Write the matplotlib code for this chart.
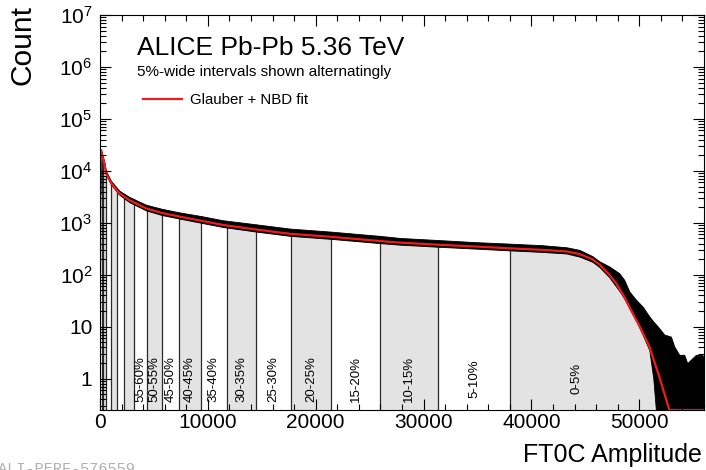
import numpy as np
import matplotlib
matplotlib.use('Agg')
import matplotlib.pyplot as plt
from matplotlib.ticker import MultipleLocator, LogLocator, NullFormatter, FuncFormatter

plt.rcParams['font.family'] = ['Liberation Sans', 'DejaVu Sans']

# centrality classes (%) and the FT0C amplitude at each class edge
cent_edges = [0, 5, 10, 15, 20, 25, 30, 35, 40, 45, 50, 55, 60, 65, 70, 75, 80, 85, 90]
amp_edges = [50300, 38056, 31324, 25991, 21454, 17685, 14444, 11731, 9352,
             7343, 5713, 4324, 3150, 2250, 1546, 1000, 520, 300, 150]
n_labelled = 12

# Glauber + NBD fit, log10(count) vs amplitude
fit_amp = [0, 30, 93, 250, 398, 556, 1019, 1787, 2713, 4259, 5741, 7407, 9400,
           11389, 14537, 17593, 21481, 25926, 27778, 31296, 34700, 37963, 41000,
           43241, 44444, 45648, 46296, 47222, 47840, 48600, 49352, 50150, 50926,
           51852, 52778, 53500, 54500, 56000]
fit_log = [2.05, 3.6, 4.40, 4.26, 4.15, 3.96, 3.77, 3.57, 3.44, 3.28, 3.19, 3.12, 3.04,
           2.96, 2.87, 2.79, 2.73, 2.65, 2.62, 2.58, 2.545, 2.51, 2.48,
           2.45, 2.40, 2.30, 2.20, 2.00, 1.84, 1.58, 1.27, 0.96, 0.62,
           0.04, -0.6, -1.3, -2.3, -4.0]

# measured histogram: upper / lower edge of the (noisy) black band, log10(count)
hist_amp = [30, 93, 250, 398, 556, 1019, 1787, 2713, 4259, 5741, 7407, 9400, 11389,
            14537, 17593, 21481, 25926, 27778, 31296, 34700, 37963, 41000, 43241,
            44444, 45648, 46296, 47222, 48148, 48611, 49074, 49691, 50305, 50926,
            51300, 51694, 52315, 52932, 53241, 53704, 54167, 54444, 55248, 55833, 56000]
hist_hi = [3.65, 4.42, 4.29, 4.18, 4.00, 3.81, 3.62, 3.50, 3.35, 3.27, 3.20, 3.13, 3.05,
           2.97, 2.89, 2.83, 2.75, 2.71, 2.67, 2.63, 2.60, 2.57, 2.53,
           2.48, 2.36, 2.26, 2.16, 2.03, 1.90, 1.68, 1.52, 1.39, 1.20,
           1.10, 1.01, 0.85, 0.81, 0.62, 0.46, 0.46, 0.30, 0.46, 0.46, 0.40]
hist_lo = [3.55, 4.37, 4.22, 4.12, 3.93, 3.74, 3.54, 3.40, 3.24, 3.15, 3.08, 3.00, 2.92,
           2.83, 2.75, 2.69, 2.61, 2.58, 2.54, 2.505, 2.47, 2.44, 2.41,
           2.35, 2.25, 2.15, 1.95, 1.69, 1.54, 1.36, 1.12, 0.85, 0.55,
           0.0, -1, -1, -1, -1, -1, -1, -1, -1, -1, -1]

amp_max = 56000
ylo, yhi = 0.25, 1e7

fig, ax = plt.subplots(figsize=(7.06, 4.70), dpi=100)
fig.subplots_adjust(left=0.1416, right=0.9972, bottom=0.1277, top=0.968)

# alternating shaded classes + class edges
for i in range(len(amp_edges) - 1):
    lo = amp_edges[i + 1]
    hi = amp_edges[i] if i else amp_max
    if i % 2 == 0:
        ax.axvspan(lo, hi, color='#e3e3e3', lw=0, zorder=0.5)
for a in amp_edges[1:]:
    ax.axvline(a, color='#2a2a2a', lw=0.9, zorder=0.6)

hi_counts = 10 ** np.array(hist_hi)
lo_counts = 10 ** np.array(hist_lo)
ax.fill_between(hist_amp, hi_counts, yhi * 10, color='white', lw=0, zorder=1)
ax.fill_between(hist_amp, lo_counts, hi_counts, facecolor='black', edgecolor='black',
                lw=0.6, zorder=1.2)

fit_counts = np.clip(10 ** np.array(fit_log), ylo, None)
ax.plot(fit_amp, fit_counts, color='#ee1c1c', lw=1.6, zorder=2, label='Glauber + NBD fit')

for i in range(n_labelled):
    mid = 0.5 * (amp_edges[i] + amp_edges[i + 1])
    ax.text(mid, 1, f'{cent_edges[i]}-{cent_edges[i + 1]}%', rotation=90,
            ha='center', va='center', fontsize=9.5, zorder=3)

ax.set_yscale('log')
ax.set_xlim(0, amp_max)
ax.set_ylim(ylo, yhi)

ax.xaxis.set_major_locator(MultipleLocator(10000))
ax.xaxis.set_minor_locator(MultipleLocator(2000))
ax.yaxis.set_major_locator(LogLocator(base=10, numticks=20))
ax.yaxis.set_minor_locator(LogLocator(base=10, subs=np.arange(2, 10), numticks=100))
ax.yaxis.set_minor_formatter(NullFormatter())


def log_label(v, pos):
    e = int(round(np.log10(v)))
    if e == 0:
        return '1'
    if e == 1:
        return '10'
    return r'$\mathdefault{10^{%d}}$' % e


ax.yaxis.set_major_formatter(FuncFormatter(log_label))
ax.tick_params(which='both', direction='in', top=True, right=True, width=0.8)
ax.tick_params(which='major', length=8, labelsize=15)
ax.tick_params(which='minor', length=4)
ax.tick_params(axis='x', pad=2)
ax.tick_params(axis='y', pad=5.5)
for s in ax.spines.values():
    s.set_linewidth(0.8)
ax.set_axisbelow(False)

ax.text(0.0613, 0.8987, 'ALICE Pb-Pb 5.36 TeV', transform=ax.transAxes,
        fontsize=19, va='baseline', ha='left')
ax.text(0.0613, 0.8557, '5%-wide intervals shown alternatingly', transform=ax.transAxes,
        fontsize=11, va='center', ha='left')
ax.legend(loc='center left', bbox_to_anchor=(0.0712, 0.7845), frameon=False,
          fontsize=10.8, handlelength=2.6, handletextpad=0.55, borderpad=0,
          borderaxespad=0)

fig.text(23 / 706, 1 - 5 / 470, 'Count', rotation=90, ha='center', va='top', fontsize=21.5)
fig.text(702 / 706, 1 - 462 / 470, 'FT0C Amplitude', ha='right', va='baseline', fontsize=18)
fig.text(-2 / 706, 1 - 462 / 470, 'ALI-PERF-576559', ha='left', va='top',
         family='Liberation Mono', fontsize=11, color='#b0b0b0')

fig.savefig('out.png', dpi=100)
